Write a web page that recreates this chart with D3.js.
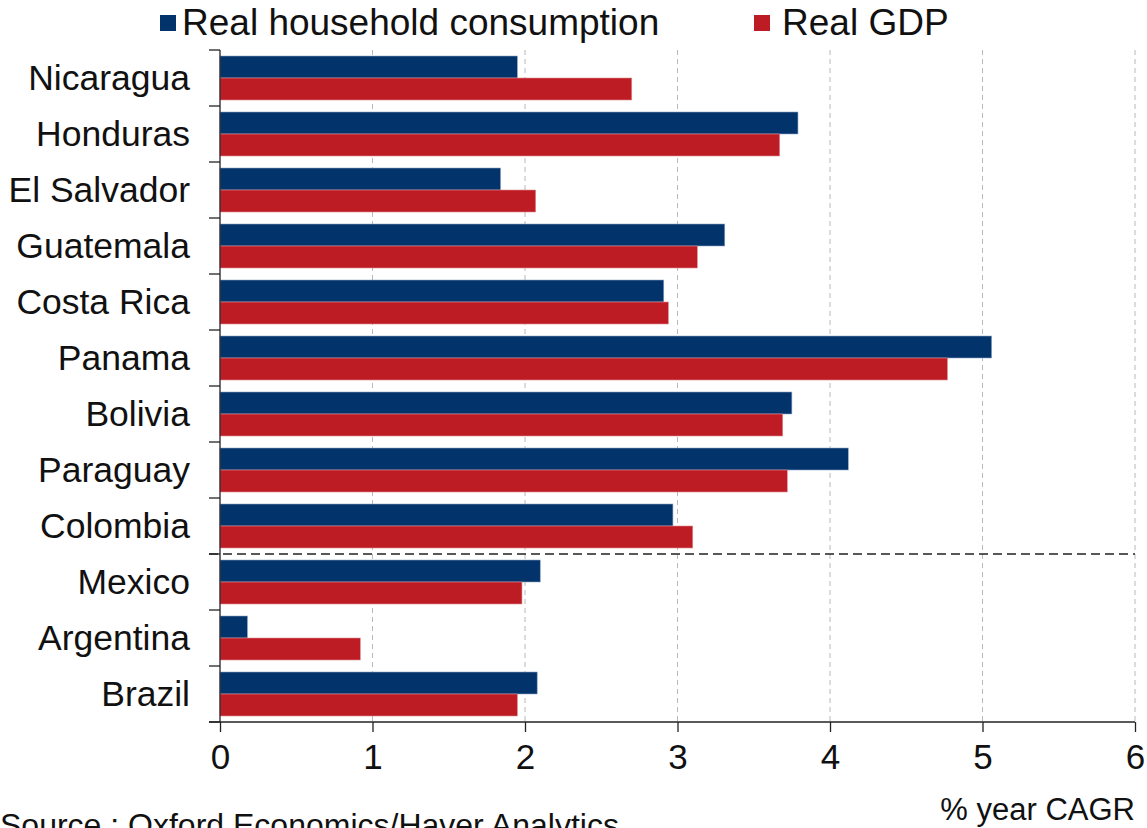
<!DOCTYPE html>
<html><head><meta charset="utf-8">
<script src="https://cdn.jsdelivr.net/npm/d3@7"></script>
<style>
html,body{margin:0;padding:0;background:#fff;overflow:hidden}
text{font-family:"Liberation Sans",Arial,sans-serif;fill:#111}
</style></head>
<body>
<svg id="chart" width="1147" height="828"></svg>
<script>
const categories = ["Nicaragua","Honduras","El Salvador","Guatemala","Costa Rica","Panama","Bolivia","Paraguay","Colombia","Mexico","Argentina","Brazil"];
const seriesNames = ["Real household consumption","Real GDP"];
const consumption = [1.95,3.79,1.84,3.31,2.91,5.06,3.75,4.12,2.97,2.10,0.18,2.08];
const gdp = [2.70,3.67,2.07,3.13,2.94,4.77,3.69,3.72,3.10,1.98,0.92,1.95];
const xTicks = [0,1,2,3,4,5,6];
const separatorAfter = "Colombia";
const sourceText = "Source : Oxford Economics/Haver Analytics";
const unitText = "% year CAGR";
const colors = ["#02336a","#be1c24"];

(function(){
const svg = d3.select("#chart");
const mL = 220, mR = 1135, mT = 50, mB = 722;
const x = d3.scaleLinear().domain([0,6]).range([mL,mR]);
const y0 = d3.scaleBand().domain(categories).range([mT,mB]).paddingInner(12/56).paddingOuter(6/56);
const y1 = d3.scaleBand().domain(seriesNames).range([0,y0.bandwidth()]);
const step = y0.step();
const color = d3.scaleOrdinal().domain(seriesNames).range(colors);

// gridlines
svg.append("g").selectAll("line").data(xTicks.filter(d=>d>0)).join("line")
  .attr("x1",d=>x(d)).attr("x2",d=>x(d)).attr("y1",mT).attr("y2",mB)
  .attr("stroke","#b8b8b8").attr("stroke-width",1).attr("stroke-dasharray","5,4");

// bars
const rows = categories.map((c,i)=>({cat:c, vals:[consumption[i],gdp[i]]}));
const g = svg.append("g");
rows.forEach(r=>{
  r.vals.forEach((v,j)=>{
    const s = seriesNames[j];
    g.append("rect")
      .attr("x",x(0)).attr("y",y0(r.cat)+y1(s))
      .attr("width",x(v)-x(0)).attr("height",y1.bandwidth())
      .attr("fill",color(s))
      .attr("stroke", j===0 ? "#8fa8c8" : "#e08a8e").attr("stroke-width",0.6);
  });
});

// separator dashed line
const sepIdx = categories.indexOf(separatorAfter)+1;
const sepY = mT + sepIdx*step;
svg.append("line").attr("x1",209).attr("x2",mR).attr("y1",sepY).attr("y2",sepY)
  .attr("stroke","#222").attr("stroke-width",1.3).attr("stroke-dasharray","9,5");

// y axis line and ticks at boundaries
svg.append("line").attr("x1",mL).attr("x2",mL).attr("y1",mT).attr("y2",mB)
  .attr("stroke","#222").attr("stroke-width",1.3);
svg.append("g").selectAll("line").data(d3.range(categories.length+1)).join("line")
  .attr("x1",209).attr("x2",mL).attr("y1",i=>mT+i*step).attr("y2",i=>mT+i*step)
  .attr("stroke","#222").attr("stroke-width",1.3);

// category labels
svg.append("g").selectAll("text").data(categories).join("text")
  .attr("x",190).attr("y",d=>y0(d)+y0.bandwidth()/2)
  .attr("dy","0.35em").attr("text-anchor","end").attr("font-size",35.5).text(d=>d);

// x axis
const xAxis = d3.axisBottom(x).tickValues(xTicks).tickSize(10).tickPadding(12).tickFormat(d3.format("d"));
const ax = svg.append("g").attr("transform",`translate(0,${mB})`).call(xAxis);
ax.select(".domain").attr("d",`M209,0H${mR}`).attr("stroke","#222").attr("stroke-width",1.3);
ax.selectAll(".tick line").attr("stroke","#222").attr("stroke-width",1.3);
ax.selectAll(".tick text").attr("font-size",35).attr("fill","#111").attr("font-family","Liberation Sans, Arial, sans-serif");

// legend
const leg = [{name:seriesNames[0],sx:160,tx:182},{name:seriesNames[1],sx:754,tx:782}];
leg.forEach(l=>{
  svg.append("rect").attr("x",l.sx).attr("y",15).attr("width",16).attr("height",16).attr("fill",color(l.name));
  svg.append("text").attr("x",l.tx).attr("y",35).attr("font-size",37).text(l.name);
});

// footer
svg.append("text").attr("x",mR).attr("y",820).attr("text-anchor","end").attr("font-size",31).text(unitText);
svg.append("text").attr("x",0).attr("y",836).attr("font-size",32).text(sourceText);
})();
</script>
</body></html>
